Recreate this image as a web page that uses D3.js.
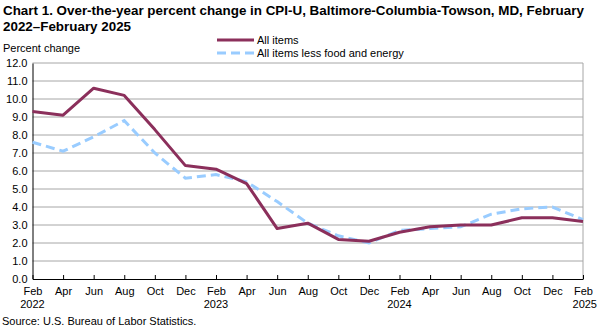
<!DOCTYPE html>
<html>
<head>
<meta charset="utf-8">
<script src="https://cdn.jsdelivr.net/npm/d3@7"></script>
<style>
  body { margin: 0; background: #fff; }
  svg { display: block; font-family: "Liberation Sans", Arial, sans-serif; }
</style>
</head>
<body>
<div id="grafica"></div>
<script>
// Datos (bimestral, feb 2022 - feb 2025)
var meses = ["Feb","Apr","Jun","Aug","Oct","Dec","Feb","Apr","Jun","Aug","Oct","Dec","Feb","Apr","Jun","Aug","Oct","Dec","Feb"]
var anios = {0: "2022", 6: "2023", 12: "2024", 18: "2025"}
var todos = [9.3, 9.1, 10.6, 10.2, 8.3, 6.3, 6.1, 5.3, 2.8, 3.1, 2.2, 2.1, 2.6, 2.9, 3.0, 3.0, 3.4, 3.4, 3.2]
var sinAlimEnergia = [7.6, 7.1, 7.9, 8.8, 7.0, 5.6, 5.8, 5.4, 4.3, 3.1, 2.4, 2.0, 2.7, 2.8, 2.9, 3.6, 3.9, 4.0, 3.3]
var ticksY = [0, 1, 2, 3, 4, 5, 6, 7, 8, 9, 10, 11, 12]

var width = 603
var height = 329
var margin = ({top: 63, right: 20, bottom: 50, left: 32.5})

var colorTodos = "#8B2F5B"
var colorCore = "#99CCFF"

var svg = d3.select("#grafica")
    .append("svg")
    .attr("width", width)
    .attr("height", height)

// Titulo
svg.append("text")
    .attr("x", 3).attr("y", 15)
    .attr("font-size", "13.4px").attr("font-weight", "bold")
    .text("Chart 1. Over-the-year percent change in CPI-U, Baltimore-Columbia-Towson, MD, February")
svg.append("text")
    .attr("x", 3).attr("y", 31)
    .attr("font-size", "13.4px").attr("font-weight", "bold")
    .text("2022\u2013February 2025")

svg.append("text")
    .attr("x", 3).attr("y", 52)
    .attr("font-size", "11px")
    .text("Percent change")

var x = d3.scaleLinear()
    .domain([0, meses.length - 1])
    .range([margin.left, 583])

var y = d3.scaleLinear()
    .domain([0, 12])
    .range([279, margin.top])

// Rejilla
svg.append("g")
    .selectAll("line")
    .data(ticksY.filter(d => d > 0))
    .join("line")
    .attr("x1", x(0)).attr("x2", x(18))
    .attr("y1", d => y(d)).attr("y2", d => y(d))
    .attr("stroke", "#A6A6A6").attr("stroke-width", 1)

// Borde derecho
svg.append("line")
    .attr("x1", x(18)).attr("x2", x(18))
    .attr("y1", y(12)).attr("y2", y(0))
    .attr("stroke", "#A6A6A6")

// Eje Y
var yAxis = g => g
    .attr("transform", "translate(" + x(0) + ",0)")
    .call(d3.axisLeft(y).tickValues(ticksY).tickFormat(d3.format(".1f")).tickSize(0).tickPadding(5))
    .call(g => g.select(".domain").attr("stroke", "#000"))
    .call(g => g.selectAll("text").attr("font-size", "11px").attr("font-family", null).attr("fill", "#000"))

svg.append("g").call(yAxis)

// Eje X
var xAxis = g => g
    .attr("transform", "translate(0," + y(0) + ")")
    .call(d3.axisBottom(x).tickValues(d3.range(meses.length)).tickFormat(i => meses[i]).tickSize(-4).tickSizeOuter(0).tickPadding(5))
    .call(g => g.selectAll("line, .domain").attr("stroke", "#000"))
    .call(g => g.selectAll("text").attr("font-size", "11px").attr("font-family", null).attr("fill", "#000").attr("dy", "0.71em").attr("y", 8))

svg.append("g").call(xAxis)

svg.append("g")
    .selectAll("text")
    .data(Object.keys(anios))
    .join("text")
    .attr("x", d => x(+d))
    .attr("y", 308)
    .attr("text-anchor", d => +d === 18 ? "end" : "middle")
    .attr("dx", d => +d === 18 ? 14 : 0)
    .attr("font-size", "11px")
    .text(d => anios[d])

// Lineas
var linea = d3.line()
    .x((d, i) => x(i))
    .y(d => y(d))

svg.append("path")
    .datum(sinAlimEnergia)
    .attr("fill", "none")
    .attr("stroke", colorCore)
    .attr("stroke-width", 3)
    .attr("stroke-dasharray", "9,5")
    .attr("d", linea)

svg.append("path")
    .datum(todos)
    .attr("fill", "none")
    .attr("stroke", colorTodos)
    .attr("stroke-width", 3)
    .attr("stroke-linejoin", "round")
    .attr("d", linea)

// Leyenda
var leyenda = [
    {nombre: "All items", color: colorTodos, dash: null},
    {nombre: "All items less food and energy", color: colorCore, dash: "9,5"}
]
var ley = svg.append("g")
    .selectAll("g")
    .data(leyenda)
    .join("g")
    .attr("transform", (d, i) => "translate(217," + (40 + i * 13) + ")")
ley.append("line")
    .attr("x1", 0).attr("x2", 37)
    .attr("stroke", d => d.color)
    .attr("stroke-width", 3)
    .attr("stroke-dasharray", d => d.dash)
ley.append("text")
    .attr("x", 40).attr("y", 4)
    .attr("font-size", "11px")
    .text(d => d.nombre)

svg.append("text")
    .attr("x", 2).attr("y", 325)
    .attr("font-size", "11px")
    .text("Source: U.S. Bureau of Labor Statistics.")
</script>
</body>
</html>
